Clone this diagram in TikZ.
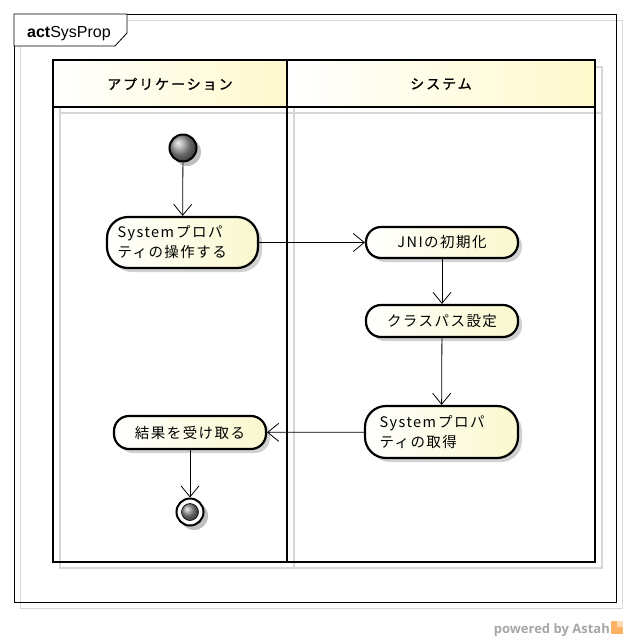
\documentclass[tikz,border=0pt]{standalone}
\usepackage{fontspec}
\setmainfont{Liberation Sans}
\newfontfamily\jp[LetterSpace=10]{Noto Sans CJK JP}
\newfontfamily\jph[LetterSpace=14,FakeBold=1.2]{Noto Sans CJK JP}
\newfontfamily\wm{Open Sans}
\usetikzlibrary{arrows.meta,shadows}
\definecolor{actyel}{RGB}{250,248,205}
\definecolor{hdyel}{RGB}{255,249,204}
\definecolor{shd}{RGB}{215,215,215}
\tikzset{
  px/.style={x=1pt,y=-1pt},
  action/.style={draw=black, line width=2.2pt, rounded corners=15pt,
    left color=white, right color=actyel,
    drop shadow={shadow xshift=4pt, shadow yshift=-4pt, fill=black!30, opacity=0.6},
    font=\jp\fontsize{14.5}{20}\selectfont, inner sep=0pt},
  tallaction/.style={action, rounded corners=21pt},
  flow/.style={draw=black, line width=0.8pt, -{Straight Barb[length=11pt,width=18pt,line width=0.8pt]}},
  lane/.style={draw=black, line width=2.5pt},
  ghost/.style={draw=shd, line width=1.5pt},
  hdr/.style={font=\jph\fontsize{14}{16}\selectfont, anchor=center}
}
\begin{document}
\begin{tikzpicture}[px]
\useasboundingbox (0,0) rectangle (629,641);
% frame shadow and frame
\draw[ghost, line width=1pt] (20,20) rectangle (622,608);
\draw[black, line width=0.8pt] (14,14) rectangle (616,602);
\draw[black, line width=0.8pt, fill=white] (14,14) -- (127,14) -- (127,33) -- (115,46) -- (14,46) -- cycle;
\node[anchor=base west, inner sep=0pt, font=\fontsize{16}{18}\selectfont] (title) at (27,37) {\textbf{act}SysProp};
% lane shadows
\draw[ghost] (60,67) rectangle (602,568);
\draw[ghost] (294,67) -- (294,568);
\draw[ghost] (60,113) -- (602,113);
% headers
\shade[left color=white, right color=hdyel] (53,60) rectangle (287,107);
\shade[left color=white, right color=hdyel] (287,60) rectangle (595,107);
\draw[lane] (53,60) rectangle (595,562);
\draw[lane] (287,60) -- (287,562);
\draw[lane] (53,107) -- (595,107);
\node[hdr] (h1) at (170,84) {アプリケーション};
\node[hdr] (h2) at (441,84) {システム};
% start node
\fill[black!25] (187,152) circle (14);
\node[circle, draw=black, line width=2pt, minimum size=27pt, inner sep=0pt, shading=ball, ball color=black!40] (start) at (183,148) {};
% actions
\node[tallaction, minimum width=151pt, minimum height=51pt, text width=130pt, align=left] (a1) at (182.5,242.5) {System\hspace{2pt}プロパ\\ティの操作する};
\node[action, minimum width=152pt, minimum height=31pt] (a2) at (442,242.5) {JNIの初期化};
\node[action, minimum width=152pt, minimum height=32pt] (a3) at (442,321) {クラスパス設定};
\node[tallaction, minimum width=153pt, minimum height=52pt, text width=124pt, align=left] (a4) at (441.5,432) {System\hspace{2pt}プロパ\\ティの取得};
\node[action, minimum width=152pt, minimum height=33pt] (a5) at (190,432.5) {結果を受け取る};
% end node
\fill[black!25] (194,516) circle (14);
\node[circle, draw=black, line width=2pt, fill=white, minimum size=27pt, inner sep=0pt] (end) at (190,512) {};
\shade[ball color=black!45] (end.center) circle (8.5);
\draw[black, line width=0.6pt] (end.center) circle (8.5);
% flows
\draw[flow] (start) -- (a1);
\draw[flow] (a1) -- (a2);
\draw[flow] (a2) -- (a3);
\draw[flow] (a3) -- (a4);
\draw[flow] (a4) -- (a5);
\draw[flow] (a5) -- (end);
% watermark
\node[anchor=base east, inner sep=0pt, text=black!35, font=\wm\bfseries\fontsize{13}{15}\selectfont] (wmark) at (610,633) {powered by Astah};
\fill[orange!60] (611,621) rectangle (623,634);
\fill[orange!30] (617,621) rectangle (623,627);
\end{tikzpicture}
\end{document}
